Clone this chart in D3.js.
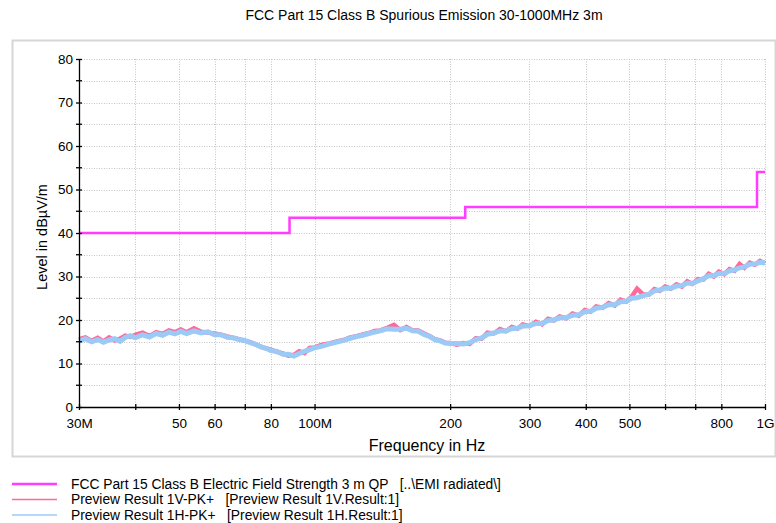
<!DOCTYPE html>
<html>
<head>
<meta charset="utf-8">
<script src="https://cdn.jsdelivr.net/npm/d3@7"></script>
<style>
  html, body { margin: 0; padding: 0; background: #ffffff; }
  svg { display: block; font-family: "Liberation Sans", Arial, sans-serif; }
  text { fill: #000; }
</style>
</head>
<body>
<svg id="chart" width="776" height="523"></svg>
<script>
// ---------------- DATA ----------------
const chartTitle = "FCC Part 15 Class B Spurious Emission 30-1000MHz 3m";
const xAxisTitle = "Frequency in Hz";
const yAxisTitle = "Level in dBµV/m";

const xTickValues = [30, 40, 50, 60, 70, 80, 100, 200, 300, 400, 500, 600, 700, 800, 1000];
const xTickLabels = ["30M", "", "50", "60", "", "80", "100M", "200", "300", "400", "500", "", "", "800", "1G"];
const yMajorTicks = [0, 10, 20, 30, 40, 50, 60, 70, 80];
const yMinorTicks = [5, 15, 25, 35, 45, 55, 65, 75];

// limit line: breakpoints (MHz) and levels (dBµV/m)
const limitBreaks = [30, 88, 216, 960, 1000];
const limitLevels = [40, 43.5, 46, 54];

// measured spectrum (MHz)
const scanFreqs = [
  30, 31, 32, 33, 34, 35, 36, 37, 38, 39, 40,
  41.5, 43, 44.5, 46, 47.5, 49, 50.5, 52,
  54, 56, 58, 60, 62, 64, 66, 68, 70, 72, 74, 76, 78, 80,
  82.5, 85, 87.5, 90, 92.5, 95, 97.5, 100,
  104, 108, 112, 116, 120, 124, 128, 132, 136, 140,
  145, 150, 155, 160, 165, 170, 175, 180, 185, 190, 195, 200,
  207, 214, 221, 228, 235, 242,
  250, 258, 266, 274, 282, 290,
  300, 310, 320, 330, 340, 350,
  362, 374, 386, 398, 410,
  422, 436, 450, 464, 478, 492, 506, 520,
  536, 552, 568, 584, 600,
  618, 636, 654, 672, 690,
  710, 730, 750, 770, 790,
  812, 834, 856, 878, 900,
  925, 950, 975, 1000
];

// Preview Result 1V-PK+
const result1V = [
  15.6, 16.0, 15.2, 15.9, 15.1, 16.0, 15.3, 15.7, 16.4, 16.1, 16.6,
  17.1, 16.3, 17.2, 16.8, 17.6, 17.2, 17.8, 17.2,
  18.1, 17.3, 17.1, 16.9, 16.6, 16.2, 15.9, 15.6, 15.2, 14.9, 14.4, 13.9, 13.5, 13.2,
  12.7, 12.3, 11.8, 12.0, 12.8, 12.4, 13.6, 13.7,
  14.3, 14.6, 15.1, 15.4, 16.0, 16.3, 16.7, 17.0, 17.5, 17.6,
  18.2, 18.9, 17.7, 18.4, 17.6, 17.6, 16.9, 16.3, 15.6, 15.3, 14.8, 14.7,
  14.3, 14.7, 14.5, 15.8, 15.7, 17.1,
  16.9, 17.9, 17.4, 18.4, 18.0, 19.0,
  18.6, 19.6, 19.0, 20.3, 19.9, 20.8,
  20.4, 21.5, 21.0, 22.3, 21.9,
  23.1, 22.8, 23.9, 23.3, 24.7, 24.2, 25.4, 27.2,
  25.9, 25.8, 27.1, 26.7, 27.7,
  27.2, 28.2, 27.7, 28.9, 28.3,
  29.4, 29.3, 30.6, 30.0, 31.1,
  30.5, 31.7, 31.3, 32.9, 32.0,
  33.2, 32.7, 33.6, 33.0
];

// Preview Result 1H-PK+
const result1H = [
  15.2, 15.7, 15.0, 15.5, 14.9, 15.4, 15.7, 15.1, 16.0, 16.4, 15.9,
  16.6, 16.1, 16.9, 16.5, 17.2, 16.8, 17.4, 16.9,
  17.5, 17.0, 17.3, 16.6, 16.6, 16.0, 15.9, 15.5, 15.3, 14.8, 14.4, 13.8, 13.5, 13.0,
  12.8, 12.1, 12.1, 11.7, 12.3, 12.8, 13.2, 13.6,
  14.0, 14.5, 14.9, 15.3, 15.8, 16.2, 16.5, 16.9, 17.2, 17.5,
  18.0, 17.9, 17.9, 18.1, 17.5, 17.4, 16.7, 16.2, 15.5, 15.2, 14.7, 14.6,
  14.6, 14.5, 14.8, 15.5, 15.9, 16.7,
  17.0, 17.5, 17.5, 18.0, 18.1, 18.6,
  18.7, 19.2, 19.2, 19.9, 20.0, 20.5,
  20.5, 21.1, 21.2, 21.9, 22.0,
  22.7, 22.9, 23.5, 23.5, 24.2, 24.3, 25.0, 25.1,
  25.6, 25.9, 26.7, 26.9, 27.3,
  27.3, 27.8, 27.9, 28.5, 28.4,
  29.0, 29.5, 30.2, 30.2, 30.7,
  30.7, 31.3, 31.5, 32.0, 32.2,
  32.8, 32.9, 33.2, 33.2
];

const legendLabels = [
  "FCC Part 15 Class B Electric Field Strength 3 m QP   [..\\EMI radiated\\]",
  "Preview Result 1V-PK+   [Preview Result 1V.Result:1]",
  "Preview Result 1H-PK+   [Preview Result 1H.Result:1]"
];

// ---------------- STYLE ----------------
const colLimit = "#ff3cff";
const col1V = "#ff6a9a";
const col1H = "#9ccaf7";
const gridCol = "#c4c4c4";

// ---------------- DRAW ----------------
const svg = d3.select("#chart");
const plot = { left: 79, right: 765, top: 59, bottom: 407 };

const x = d3.scaleLog().domain([30, 1000]).range([plot.left, plot.right]);
const y = d3.scaleLinear().domain([0, 80]).range([plot.bottom, plot.top]);

// outer frame
svg.append("rect")
  .attr("x", 12.5).attr("y", 40.5).attr("width", 763).attr("height", 416)
  .attr("fill", "#fff").attr("stroke", "#d6d6d6").attr("stroke-width", 2);

// title
svg.append("text")
  .attr("x", 424).attr("y", 20)
  .attr("text-anchor", "middle")
  .style("font-size", "14px")
  .text(chartTitle);

// grid
const grid = svg.append("g");
grid.selectAll("line.h")
  .data(yMajorTicks.concat(yMinorTicks).filter(v => v > 0))
  .join("line")
  .attr("x1", plot.left).attr("x2", plot.right)
  .attr("y1", d => Math.round(y(d)) + 0.5).attr("y2", d => Math.round(y(d)) + 0.5)
  .attr("stroke", gridCol).attr("stroke-dasharray", "1,1.5");
grid.selectAll("line.v")
  .data(xTickValues.filter(v => v > 30))
  .join("line")
  .attr("x1", d => Math.round(x(d)) + 0.5).attr("x2", d => Math.round(x(d)) + 0.5)
  .attr("y1", plot.top).attr("y2", plot.bottom)
  .attr("stroke", gridCol).attr("stroke-dasharray", "1,1.5");

// limit line (step)
const limitPts = limitLevels.map((v, i) => [limitBreaks[i], v]);
limitPts.push([limitBreaks[limitBreaks.length - 1], limitLevels[limitLevels.length - 1]]);
svg.append("path")
  .datum(limitPts)
  .attr("fill", "none").attr("stroke", colLimit).attr("stroke-width", 2.5)
  .attr("d", d3.line().x(d => x(d[0])).y(d => y(d[1])).curve(d3.curveStepAfter));

// traces
const traceLine = d3.line().x(d => x(d[0])).y(d => y(d[1]));
svg.append("path")
  .datum(scanFreqs.map((f, i) => [f, result1V[i]]))
  .attr("fill", "none").attr("stroke", col1V).attr("stroke-width", 4.5)
  .attr("stroke-linejoin", "miter")
  .attr("d", traceLine);
svg.append("path")
  .datum(scanFreqs.map((f, i) => [f, result1H[i]]))
  .attr("fill", "none").attr("stroke", col1H).attr("stroke-width", 5)
  .attr("stroke-linejoin", "miter")
  .attr("d", traceLine);

// y axis
const yAxis = svg.append("g")
  .attr("transform", `translate(${plot.left},0)`)
  .call(d3.axisLeft(y).tickValues(yMajorTicks).tickSize(3).tickPadding(3).tickFormat(d3.format("d")));
yAxis.select(".domain").attr("stroke", "#000").attr("stroke-width", 1.3)
  .attr("d", `M0.5,${plot.bottom}V${plot.top}`);
yAxis.selectAll(".tick line").attr("x1", -3).attr("x2", 3).attr("stroke-width", 1.3);
yAxis.selectAll(".tick text").style("font-size", "13.5px").attr("fill", "#000");
yAxis.selectAll("line.minor")
  .data(yMinorTicks).join("line").attr("class", "minor")
  .attr("x1", -3).attr("x2", 3)
  .attr("y1", d => y(d)).attr("y2", d => y(d))
  .attr("stroke", "#000").attr("stroke-width", 1.3);

// x axis
const xAxis = svg.append("g")
  .attr("transform", `translate(0,${plot.bottom})`)
  .call(d3.axisBottom(x).tickValues(xTickValues).tickSize(3).tickPadding(8)
    .tickFormat((d, i) => xTickLabels[i]));
xAxis.select(".domain").attr("stroke", "#000").attr("stroke-width", 1.3)
  .attr("d", `M${plot.left},0.5H${plot.right}`);
xAxis.selectAll(".tick line").attr("y1", -3).attr("y2", 3).attr("stroke-width", 1.3);
xAxis.selectAll(".tick text").style("font-size", "13.5px").attr("fill", "#000");

// axis titles
svg.append("text")
  .attr("x", 427).attr("y", 451)
  .attr("text-anchor", "middle")
  .style("font-size", "16px")
  .text(xAxisTitle);
svg.append("text")
  .attr("transform", "translate(47,237) rotate(-90)")
  .attr("text-anchor", "middle")
  .style("font-size", "14.5px")
  .text(yAxisTitle);

// legend
const legendColors = [colLimit, col1V, col1H];
const legendWidths = [2.5, 1.5, 1.5];
const lg = svg.append("g");
legendLabels.forEach((lab, i) => {
  const ly = 484 + i * 15.5;
  lg.append("line")
    .attr("x1", 12).attr("x2", 57).attr("y1", ly).attr("y2", ly)
    .attr("stroke", legendColors[i]).attr("stroke-width", legendWidths[i]);
  lg.append("text")
    .attr("x", 71).attr("y", ly + 4.5)
    .style("font-size", "13.8px")
    .style("white-space", "pre")
    .attr("xml:space", "preserve")
    .text(lab);
});
</script>
</body>
</html>
